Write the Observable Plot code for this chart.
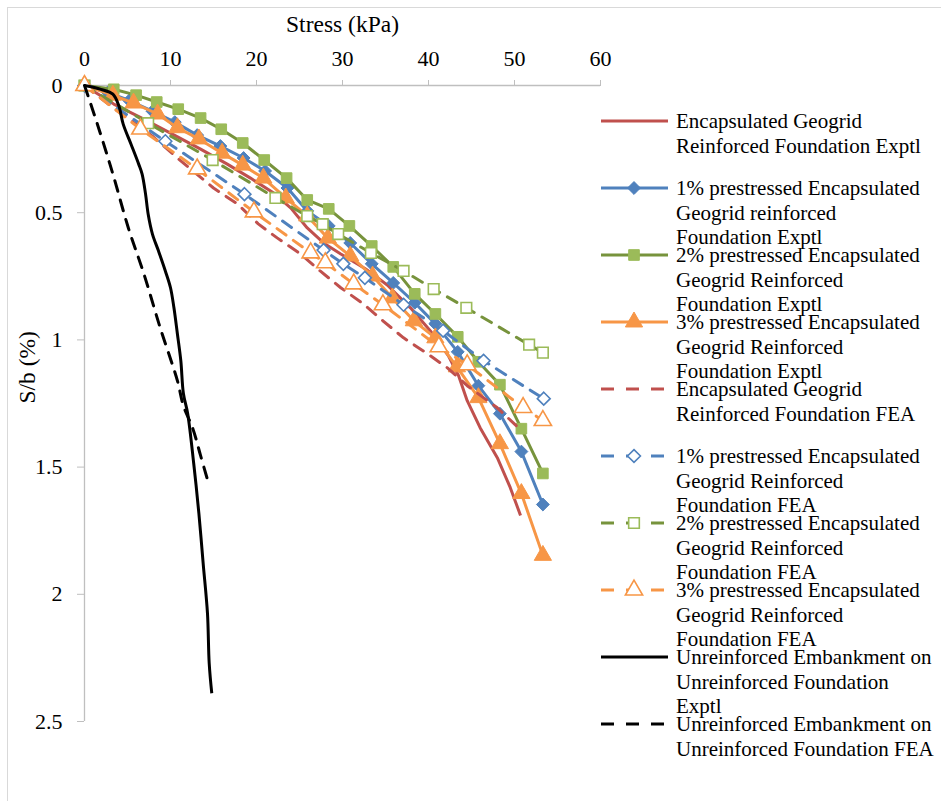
<!DOCTYPE html>
<html><head><meta charset="utf-8">
<script src="https://cdn.jsdelivr.net/npm/d3@7"></script>
<script src="https://cdn.jsdelivr.net/npm/@observablehq/plot@0.6"></script>
<style>
body{margin:0;background:#fff;}
#chart{position:relative;width:941px;height:801px;}
#chart svg text{font-family:"Liberation Serif","DejaVu Serif",serif !important;}
</style>
</head><body><div id="chart"></div>
<script>
// ---- Data (Stress kPa, S/b %) ----
const xTicks = [0, 10, 20, 30, 40, 50, 60];
const yTicks = [0, 0.5, 1, 1.5, 2, 2.5];

const egExptl = [[0,0],[3.4,0.073],[6.9,0.132],[10.0,0.187],[13.5,0.25],[16.6,0.309],[19.3,0.364],[22.0,0.423],[24.0,0.482],[25.9,0.56],[27.8,0.619],[29.8,0.662],[32.7,0.721],[35.2,0.784],[37.9,0.874],[40.2,0.964],[42.3,1.062],[43.5,1.141],[44.5,1.239],[46.0,1.345],[48.0,1.463],[49.5,1.58],[50.7,1.69]];
const p1Exptl = [[0,0],[2.7,0.027],[5.2,0.059],[7.9,0.101],[10.5,0.144],[13.1,0.195],[15.8,0.238],[18.5,0.285],[21.0,0.336],[23.6,0.403],[25.9,0.493],[28.4,0.552],[30.9,0.619],[33.4,0.701],[35.9,0.776],[38.4,0.854],[40.8,0.937],[43.4,1.047],[45.8,1.18],[48.3,1.29],[50.8,1.439],[53.3,1.647]];
const p2Exptl = [[0,0],[3.4,0.015],[6.0,0.038],[8.4,0.065],[10.9,0.093],[13.5,0.128],[15.9,0.172],[18.4,0.226],[20.9,0.293],[23.5,0.364],[25.9,0.45],[28.4,0.485],[30.8,0.552],[33.4,0.631],[35.9,0.713],[38.4,0.819],[40.8,0.898],[43.4,0.988],[45.8,1.086],[48.3,1.176],[50.8,1.349],[53.3,1.525]];
const p3Exptl = [[0,0],[3.3,0.038],[5.7,0.069],[8.5,0.112],[10.8,0.166],[13.3,0.21],[16.0,0.266],[18.4,0.313],[20.8,0.364],[23.4,0.442],[25.9,0.513],[28.3,0.6],[30.9,0.67],[33.5,0.749],[35.8,0.835],[38.3,0.925],[40.8,0.992],[43.3,1.106],[45.8,1.227],[48.3,1.408],[50.8,1.604],[53.3,1.847]];
const egFEA = [[0,0],[3.4,0.089],[7.9,0.199],[10.8,0.285],[15.0,0.403],[17.8,0.466],[20.2,0.544],[22.4,0.599],[25.1,0.662],[27.4,0.729],[29.8,0.795],[32.4,0.858],[34.7,0.925],[37.1,0.992],[39.9,1.055],[42.2,1.11],[44.5,1.18],[48.0,1.267],[50.2,1.337]];
const p1FEA = [[0,0],[9.4,0.219],[18.6,0.427],[27.8,0.647],[30.1,0.701],[32.6,0.756],[37.1,0.862],[41.7,0.964],[46.4,1.082],[53.4,1.231]];
const p2FEA = [[0,0],[7.4,0.148],[14.9,0.293],[22.2,0.442],[25.9,0.513],[27.7,0.545],[29.5,0.584],[33.3,0.658],[37.1,0.729],[40.6,0.8],[44.4,0.874],[51.7,1.019],[53.3,1.05]];
const p3FEA = [[0,0],[6.5,0.171],[13.1,0.328],[19.7,0.497],[26.3,0.658],[28.0,0.697],[31.3,0.78],[34.7,0.862],[41.2,1.027],[44.5,1.098],[51.0,1.266],[53.3,1.317]];
const unrExptl = [[0,0],[1.9,0.015],[3.3,0.034],[4.0,0.081],[4.5,0.152],[5.4,0.23],[6.3,0.309],[6.7,0.348],[7.1,0.427],[7.4,0.505],[7.9,0.584],[8.6,0.65],[9.4,0.729],[10.0,0.795],[10.4,0.874],[10.8,0.976],[11.2,1.082],[11.5,1.211],[12.0,1.29],[12.7,1.486],[13.3,1.682],[13.8,1.879],[14.3,2.075],[14.5,2.271],[14.8,2.389]];
const unrFEA = [[0,0],[1.5,0.152],[3.3,0.348],[5.1,0.56],[6.9,0.74],[8.8,0.952],[10.8,1.16],[11.5,1.259],[12.6,1.349],[13.5,1.455],[14.4,1.561]];

const legendLabels = [
  ["Encapsulated Geogrid", "Reinforced Foundation Exptl"],
  ["1% prestressed Encapsulated", "Geogrid reinforced", "Foundation Exptl"],
  ["2% prestressed Encapsulated", "Geogrid Reinforced", "Foundation Exptl"],
  ["3% prestressed Encapsulated", "Geogrid Reinforced", "Foundation Exptl"],
  ["Encapsulated Geogrid", "Reinforced Foundation FEA"],
  ["1% prestressed Encapsulated", "Geogrid Reinforced", "Foundation FEA"],
  ["2% prestressed Encapsulated", "Geogrid Reinforced", "Foundation FEA"],
  ["3% prestressed Encapsulated", "Geogrid Reinforced", "Foundation FEA"],
  ["Unreinforced Embankment on", "Unreinforced Foundation", "Exptl"],
  ["Unreinforced Embankment on", "Unreinforced Foundation FEA"]
];

// ---- Styles ----
const SERIF = "Liberation Serif, DejaVu Serif, serif";
const RED = "#c0504d", BLUE = "#4f81bd", GREEN_L = "#77933c", GREEN_M = "#9bbb59", ORANGE = "#f79646";
const DASH = "11,9";
const series = [
  {data: egExptl, line: RED, dash: null, sym: null},
  {data: p1Exptl, line: BLUE, dash: null, sym: "diamond2", mk: BLUE, hollow: false},
  {data: p2Exptl, line: GREEN_L, dash: null, sym: "square", mk: GREEN_M, hollow: false},
  {data: p3Exptl, line: ORANGE, dash: null, sym: "triangle", mk: ORANGE, hollow: false},
  {data: egFEA, line: RED, dash: DASH, sym: null},
  {data: p1FEA, line: BLUE, dash: DASH, sym: "diamond2", mk: BLUE, hollow: true},
  {data: p2FEA, line: GREEN_L, dash: DASH, sym: "square", mk: GREEN_M, hollow: true},
  {data: p3FEA, line: ORANGE, dash: DASH, sym: "triangle", mk: ORANGE, hollow: true},
  {data: unrExptl, line: "#000", dash: null, sym: null, curve: "catmull-rom"},
  {data: unrFEA, line: "#000", dash: DASH, sym: null, curve: "catmull-rom"}
];
const symR = {diamond2: 5.8, square: 6.0, triangle: 6.4};

const marks = [
  Plot.ruleY([0], {stroke: "#bfbfbf", strokeWidth: 1.3}),
  Plot.ruleX([0], {stroke: "#bfbfbf", strokeWidth: 1.3}),
  Plot.axisX({anchor: "top", ticks: xTicks, tickSize: 6, tickPadding: 14, stroke: "#bfbfbf", fill: "#000", label: null, fontSize: 22, fontFamily: SERIF, tickFormat: d => String(d)}),
  Plot.axisY({anchor: "left", ticks: yTicks, tickSize: 7, tickPadding: 15, stroke: "#bfbfbf", fill: "#000", label: null, fontSize: 22, fontFamily: SERIF, tickFormat: d => String(d)}),
  Plot.text(["Stress (kPa)"], {frameAnchor: "top", dy: -70, fontSize: 23.5, fontFamily: SERIF}),
  Plot.text(["S/b (%)"], {frameAnchor: "left", dx: -57, rotate: -90, fontSize: 23.5, fontFamily: SERIF})
];
series.forEach(s => {
  marks.push(Plot.line(s.data, {x: d => d[0], y: d => d[1], stroke: s.line, strokeWidth: 3,
    strokeDasharray: s.dash || undefined, curve: s.curve || "linear", strokeLinecap: s.dash ? "round" : "butt"}));
  if (s.sym) {
    marks.push(Plot.dot(s.data, {x: d => d[0], y: d => d[1], symbol: s.sym, r: symR[s.sym],
      fill: s.hollow ? "#fff" : s.mk, stroke: s.mk, strokeWidth: s.hollow ? 1.6 : 1}));
  }
});

const plot = Plot.plot({
  width: 941, height: 801,
  marginLeft: 84, marginTop: 85, marginRight: 341, marginBottom: 80,
  x: {domain: [0, 60]},
  y: {domain: [0, 2.5], reverse: true},
  style: {fontFamily: SERIF, fontSize: "21px", background: "#fff", color: "#000"},
  marks
});
document.getElementById("chart").appendChild(plot);

// ---- Legend & outer border ----
const svg = d3.select(plot);
svg.append("rect").attr("x", 7.5).attr("y", 7.5).attr("width", 940).attr("height", 800)
  .attr("fill", "none").attr("stroke", "#d9d9d9").attr("stroke-width", 1);
const lg = svg.append("g").attr("font-family", SERIF).attr("font-size", 21).attr("text-anchor", "start");
const symMap = {diamond2: d3.symbolDiamond2, square: d3.symbolSquare, triangle: d3.symbolTriangle};
series.forEach((s, i) => {
  const y = 121 + i * 67;
  lg.append("line").attr("x1", 601).attr("x2", 668).attr("y1", y).attr("y2", y)
    .attr("stroke", s.line).attr("stroke-width", 3)
    .attr("stroke-dasharray", s.dash ? "13,12" : null);
  if (s.sym) {
    const r = symR[s.sym];
    lg.append("path").attr("transform", `translate(634,${y})`)
      .attr("d", d3.symbol(symMap[s.sym], Math.PI * r * r)())
      .attr("fill", s.hollow ? "#fff" : s.mk).attr("stroke", s.mk).attr("stroke-width", s.hollow ? 1.6 : 1);
  }
  legendLabels[i].forEach((t, j) => {
    lg.append("text").attr("x", 676).attr("y", y + j * 24.5).attr("dy", "0.35em")
      .attr("text-anchor", "start").attr("fill", "#000").text(t);
  });
});
</script>
</body></html>
